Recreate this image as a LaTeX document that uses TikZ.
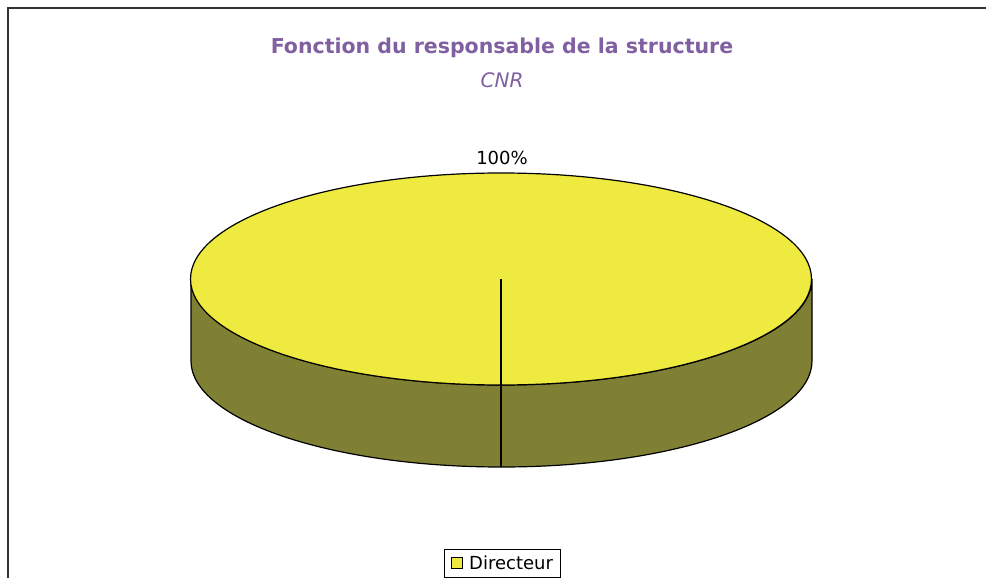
\documentclass[tikz,border=0pt]{standalone}
\usepackage{fontspec}
\setmainfont{DejaVu Sans}
\definecolor{titlepurple}{RGB}{128,96,160}
\definecolor{pieyellow}{RGB}{238,234,64}
\definecolor{pieolive}{RGB}{128,128,52}
\definecolor{framegray}{RGB}{50,50,50}
\begin{document}
\begin{tikzpicture}[x=1pt,y=-1pt,
  lbl/.style={inner sep=0pt,font=\fontsize{18}{20}\selectfont},
  edge/.style={draw=black,line width=1.2pt}]
\useasboundingbox (0,0) rectangle (986,578);
\fill[white] (0,0) rectangle (986,578);
% frame
\draw[framegray,line width=2pt] (8,578) -- (8,8) -- (986,8);
% titles
\node[lbl,text=titlepurple,font=\fontsize{20.5}{22}\selectfont\bfseries] (title) at (502,48) {Fonction du responsable de la structure};
\node[lbl,text=titlepurple,font=\fontsize{20}{22}\selectfont\itshape] (sub) at (502,80) {CNR};
% pie side
\coordinate (c) at (501,279);
\coordinate (cb) at (501,385);
\coordinate (cbb) at (501,467);
\filldraw[edge,fill=pieolive] (191,279) -- (191,361) arc[start angle=180,end angle=360,x radius=310.5,y radius=-106] -- (812,279) arc[start angle=0,end angle=-180,x radius=310.5,y radius=-106] -- cycle;
% top
\filldraw[edge,fill=pieyellow] (c) ellipse[x radius=310.5,y radius=106];
\draw[black,line width=1.2pt] (c) -- (cb) -- (cbb);
% label
\node[lbl] (pct) at (502,158) {100\%};
% legend
\node[draw=black,line width=1pt,minimum width=116,minimum height=28,inner sep=0pt] (leg) at (502,563) {};
\node[draw=black,line width=1pt,fill=pieyellow,minimum width=11,minimum height=11,inner sep=0pt] (legsq) at (456.5,563) {};
\node[lbl,anchor=west] (legtxt) at (469,563) {Directeur};
\end{tikzpicture}
\end{document}
